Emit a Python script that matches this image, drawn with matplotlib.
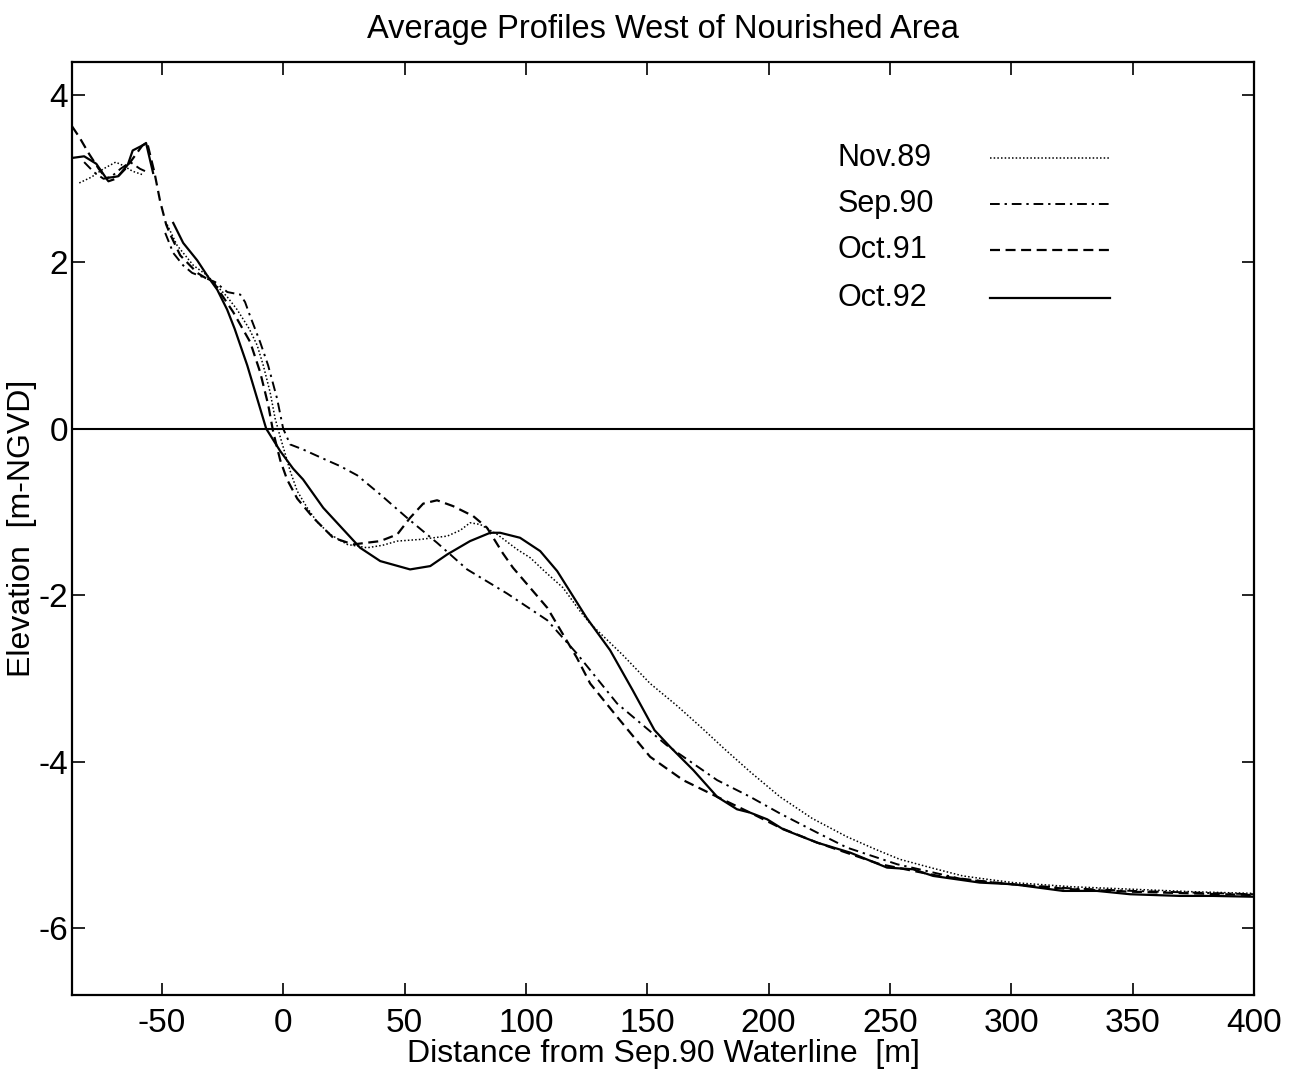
import numpy as np
import matplotlib
matplotlib.use("Agg")
import matplotlib.pyplot as plt

plt.rcParams['font.family'] = ['Liberation Sans', 'DejaVu Sans']
plt.rcParams['axes.unicode_minus'] = False

nan = np.nan

# Nov.89 profile (dotted)
x_nov89 = [-84, -79, -74, -69, -66, -62, -58, nan, -47.8, -43.7, -37, -31.3, -28.8, -23, -19, -14,
           -10.7, -8.2, -5.4, -3.3, -1.2, 2.9, 5.8, 9.9, 14, 19.4, 26.4, 34.6, 41, 47, 56.4, 67.6, 73,
           77, 81.2, 88.2, 96.4, 101.8, 108, 115.3, 122.3, 126.5, 140, 151.2, 162, 172, 182, 192.4,
           204.7, 218, 232.3, 244, 254, 268, 280, 290, 300.7, 325, 350, 375, 400]
y_nov89 = [2.95, 3.02, 3.12, 3.2, 3.16, 3.09, 3.05, nan, 2.45, 2.2, 1.96, 1.84, 1.76, 1.58, 1.43, 1.2,
           1.0, 0.76, 0.44, 0.12, -0.1, -0.51, -0.75, -0.95, -1.12, -1.27, -1.39, -1.43, -1.4, -1.35,
           -1.33, -1.29, -1.22, -1.13, -1.15, -1.27, -1.45, -1.55, -1.72, -1.91, -2.19, -2.34, -2.72,
           -3.06, -3.32, -3.58, -3.85, -4.12, -4.42, -4.68, -4.9, -5.05, -5.17, -5.28, -5.37, -5.41,
           -5.45, -5.5, -5.53, -5.56, -5.58]

# Sep.90 profile (dash-dot)
x_sep90 = [-82, -78, -74, -71, -67, -63, -59, -56, nan, -48.6, -45.3, -41.2, -37.5, -33, -28, -23,
           -17.7, -15.7, -13.6, -9.5, -6.2, -2.5, 0, 2.9, 8.2, 16.5, 23.5, 30.5, 40, 51, 63.4, 75.8,
           92.3, 108.8, 121, 137.6, 158, 178.8, 192.4, 204.7, 220, 232.3, 253, 280, 300, 325, 350,
           375, 400]
y_sep90 = [3.2, 3.08, 3.0, 3.02, 3.12, 3.2, 3.12, 3.08, nan, 2.35, 2.11, 1.96, 1.87, 1.82, 1.76, 1.64,
           1.61, 1.52, 1.35, 1.04, 0.76, 0.36, 0.0, -0.19, -0.25, -0.36, -0.45, -0.56, -0.79, -1.07,
           -1.37, -1.69, -1.98, -2.3, -2.7, -3.3, -3.8, -4.22, -4.42, -4.62, -4.85, -5.03, -5.23,
           -5.41, -5.47, -5.52, -5.55, -5.57, -5.59]

# Oct.91 profile (dashed)
x_oct91 = [-87, -84, -80, -76, -72, -69, -65, -61, -58, -56, -53, -50.7, -48.2, -46.5, -42.4, -35.4,
           -30.9, -28.8, -20.6, -13.6, -9.5, -6.2, -4.1, -1.2, 1.6, 5.8, 12.4, 20.6, 28.8, 40, 47,
           52.3, 57.7, 63.4, 70, 78.3, 84, 90.6, 94.7, 108.8, 121, 126.5, 137.6, 151.2, 164.8, 178.8,
           192.4, 204.7, 220, 246, 270, 287, 300, 325, 350, 375, 400]
y_oct91 = [3.63, 3.5, 3.3, 3.12, 2.97, 3.0, 3.12, 3.28, 3.4, 3.43, 3.07, 2.73, 2.45, 2.33, 2.08, 1.87,
           1.79, 1.76, 1.40, 1.04, 0.68, 0.29, -0.04, -0.38, -0.61, -0.84, -1.07, -1.31, -1.39, -1.35,
           -1.27, -1.07, -0.90, -0.86, -0.93, -1.05, -1.19, -1.5, -1.67, -2.15, -2.75, -3.06, -3.46,
           -3.94, -4.22, -4.42, -4.61, -4.79, -4.97, -5.23, -5.37, -5.43, -5.47, -5.53, -5.56, -5.58,
           -5.6]

# Oct.92 profile (solid)
x_oct92 = [-87, -82, -77, -73, -70, -68, -64, -62, -58, -56.5, -53.6, nan, -45.3, -41.2, -35.4, -30.9,
           -27.2, -23.1, -20, -14.8, -7, -1.2, 4.1, 8.2, 16.5, 31.7, 40, 52.3, 60.6, 67.6, 77, 85.3,
           89.4, 97.6, 105.9, 112.9, 125, 134.7, 144, 153, 159.4, 169, 178.8, 187, 192.4, 199.4, 206,
           220, 233.6, 248.8, 259.5, 267.8, 287, 300.7, 321.3, 335.3, 349, 369.5, 383, 400]
y_oct92 = [3.25, 3.27, 3.18, 3.01, 3.02, 3.03, 3.17, 3.34, 3.40, 3.43, 3.07, nan, 2.47, 2.23, 2.02,
           1.82, 1.67, 1.43, 1.2, 0.76, 0.0, -0.27, -0.48, -0.61, -0.95, -1.43, -1.59, -1.69, -1.65,
           -1.51, -1.35, -1.25, -1.25, -1.31, -1.47, -1.71, -2.27, -2.66, -3.14, -3.62, -3.82, -4.10,
           -4.42, -4.57, -4.61, -4.69, -4.81, -4.97, -5.09, -5.27, -5.29, -5.37, -5.45, -5.47, -5.55,
           -5.55, -5.59, -5.61, -5.61, -5.62]

labels = ['Nov.89', 'Sep.90', 'Oct.91', 'Oct.92']
xticks = [-50, 0, 50, 100, 150, 200, 250, 300, 350, 400]
yticks = [-6, -4, -2, 0, 2, 4]

styles = [dict(lw=1.1, linestyle=(0, (1, 1.4))),
          dict(lw=1.4, linestyle=(0, (5, 2.5, 1.2, 2.5))),
          dict(lw=1.6, linestyle=(0, (4.5, 2.5))),
          dict(lw=1.6, linestyle='-')]

fig = plt.figure(figsize=(13, 10.72), dpi=100)
ax = fig.add_axes([0.0554, 0.0718, 0.9092, 0.8702])

series = [(x_nov89, y_nov89), (x_sep90, y_sep90), (x_oct91, y_oct91), (x_oct92, y_oct92)]
for (xs, ys), st in zip(series, styles):
    ax.plot(xs, ys, color='k', **st)
ax.axhline(0, color='k', lw=1.5)

ax.set_xlim(-87, 400)
ax.set_ylim(-6.8, 4.4)
ax.set_xticks(xticks)
ax.set_yticks(yticks)
ax.tick_params(direction='in', top=True, right=True, length=9, width=1.2, labelsize=24)
ax.tick_params(axis='x', pad=9)
ax.tick_params(axis='y', pad=3)
for s in ax.spines.values():
    s.set_linewidth(1.6)

ax.set_xlabel('Distance from Sep.90 Waterline  [m]', fontsize=23, labelpad=0)
ax.set_ylabel('Elevation  [m-NGVD]', fontsize=23)
ax.yaxis.set_label_coords(-0.030, 0.5)
ax.set_title('Average Profiles West of Nourished Area', fontsize=23.5, pad=17.5)

# legend: label on the left, line sample on the right
leg_rows = [0.897, 0.848, 0.799, 0.747]
for lab, st, yr in zip(labels, styles, leg_rows):
    ax.text(0.648, yr, lab, transform=ax.transAxes, fontsize=22, ha='left', va='center')
    ax.plot([0.777, 0.878], [yr, yr], transform=ax.transAxes, color='k', **st)

fig.savefig('out.png', dpi=100)
